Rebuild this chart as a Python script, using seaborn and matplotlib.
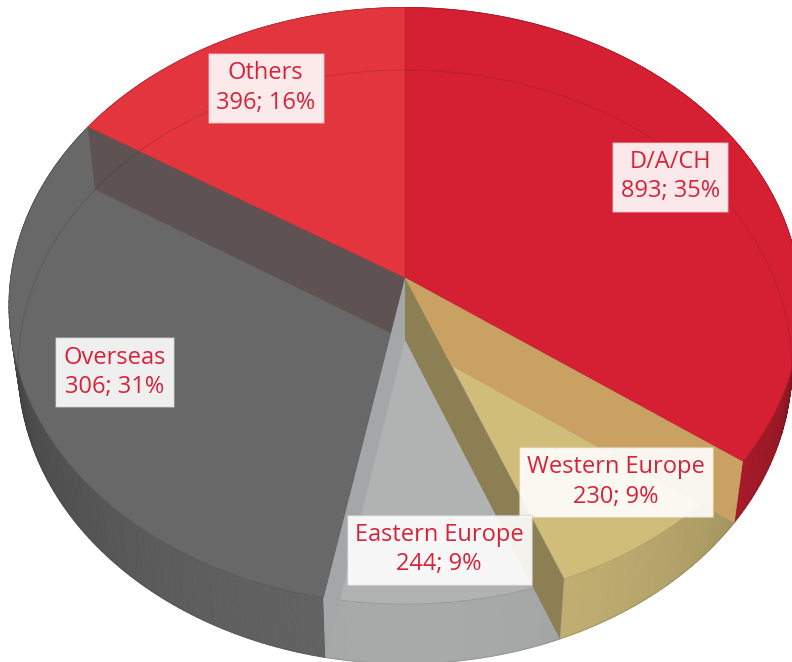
import numpy as np
import pandas as pd
import seaborn as sns
import matplotlib.pyplot as plt
from matplotlib.collections import PolyCollection
from matplotlib.colors import to_rgb, to_rgba

# Sales by region, 3D pie
regions = ['D/A/CH', 'Western Europe', 'Eastern Europe', 'Overseas', 'Others']
amounts = [893, 230, 244, 306, 396]
shares = [35, 9, 9, 31, 16]

df = pd.DataFrame({'region': regions, 'amount': amounts, 'share': shares})

# slice tops, and the inner walls seen through the neighbouring top
top_colors = ['#d52034', '#d0bd7a', '#b1b3b3', '#686868', '#e3353e']
wall_colors = ['#c9a162', '#8b7f53', '#a4a6a7', '#5f5252']
label_radius = [0.78, 0.82, 0.85, 0.78, 0.78]
text_color = '#d7233a'

sns.set_theme(style='white')
plt.rcParams['font.family'] = ['Open Sans', 'DejaVu Sans']

# simple perspective camera, results come out in pixels
tilt = np.radians(48.2)
dist = 7.33
focal = 2895
height = 0.23
squeeze = 0.975


def project(x, y, z):
    x, y, z = np.broadcast_arrays(np.asarray(x, float), np.asarray(y, float), np.asarray(z, float))
    v = y * np.sin(tilt) + z * np.cos(tilt)
    w = -y * np.cos(tilt) + z * np.sin(tilt)
    s = focal / (dist - w)
    return x * s * squeeze, v * s


def shade(color, f):
    return tuple(np.clip(np.array(to_rgb(color)) * f, 0, 1))


fig = plt.figure(figsize=(7.92, 6.62), dpi=100)
ax = fig.add_axes([0, 0, 1, 1])
ax.axis('off')

edges = 90 - 360 * np.concatenate([[0], np.cumsum(df['share'])]) / df['share'].sum()

# outer side walls, back to front
polys, cols, depth = [], [], []
for i in range(len(df)):
    n = int(abs(edges[i] - edges[i + 1])) + 2
    th = np.radians(np.linspace(edges[i], edges[i + 1], n))
    for a, b in zip(th[:-1], th[1:]):
        px, py = project(np.cos([a, b, b, a]), np.sin([a, b, b, a]), [height, height, 0, 0])
        polys.append(np.column_stack([px, py]))
        m = (a + b) / 2
        cols.append(shade(top_colors[i], 0.55 + 0.4 * max(0, -np.sin(m))))
        depth.append(-np.sin(m))
order = np.argsort(depth)
ax.add_collection(PolyCollection([polys[k] for k in order],
                                 facecolors=[cols[k] for k in order],
                                 edgecolors=[cols[k] for k in order],
                                 linewidths=0.6, zorder=1))

# slice tops
for i in range(len(df)):
    th = np.radians(np.linspace(edges[i], edges[i + 1], 200))
    px, py = project(np.r_[0, np.cos(th)], np.r_[0, np.sin(th)], height)
    ax.fill(px, py, facecolor=top_colors[i], edgecolor=shade(top_colors[i], 0.85),
            linewidth=0.6, zorder=2)

# inner walls showing through the translucent tops
bounds = edges[1:-1]
for k in np.argsort(-np.sin(np.radians(bounds))):
    t = np.radians(bounds[k])
    px, py = project([0, np.cos(t), np.cos(t), 0], [0, np.sin(t), np.sin(t), 0],
                     [height, height, 0, 0])
    ax.fill(px, py, facecolor=wall_colors[k], edgecolor='none', zorder=3)

# bottom rim seen through the tops
th = np.linspace(0, 2 * np.pi, 400)
px, py = project(np.cos(th), np.sin(th), 0)
ax.plot(px, py, color='k', alpha=0.15, lw=0.8, zorder=4)

# labels
for i, row in df.iterrows():
    mid = np.radians((edges[i] + edges[i + 1]) / 2)
    r = label_radius[i]
    lx, ly = project(r * np.cos(mid), r * np.sin(mid), height)
    ax.text(float(lx), float(ly), f"{row['region']}\n{row['amount']}; {row['share']}%",
            ha='center', va='center', fontsize=17, color=text_color, linespacing=1.3,
            bbox=dict(boxstyle='square,pad=0.35', facecolor=(1, 1, 1, 0.9),
                      edgecolor=to_rgba(top_colors[i], 0.35), linewidth=1),
            zorder=5)

cx, cy = project(0, 0, height)
ax.set_xlim(-405, 792 - 405)
ax.set_ylim(float(cy) - 384, float(cy) + 278)

fig.savefig('out.png', dpi=100)
